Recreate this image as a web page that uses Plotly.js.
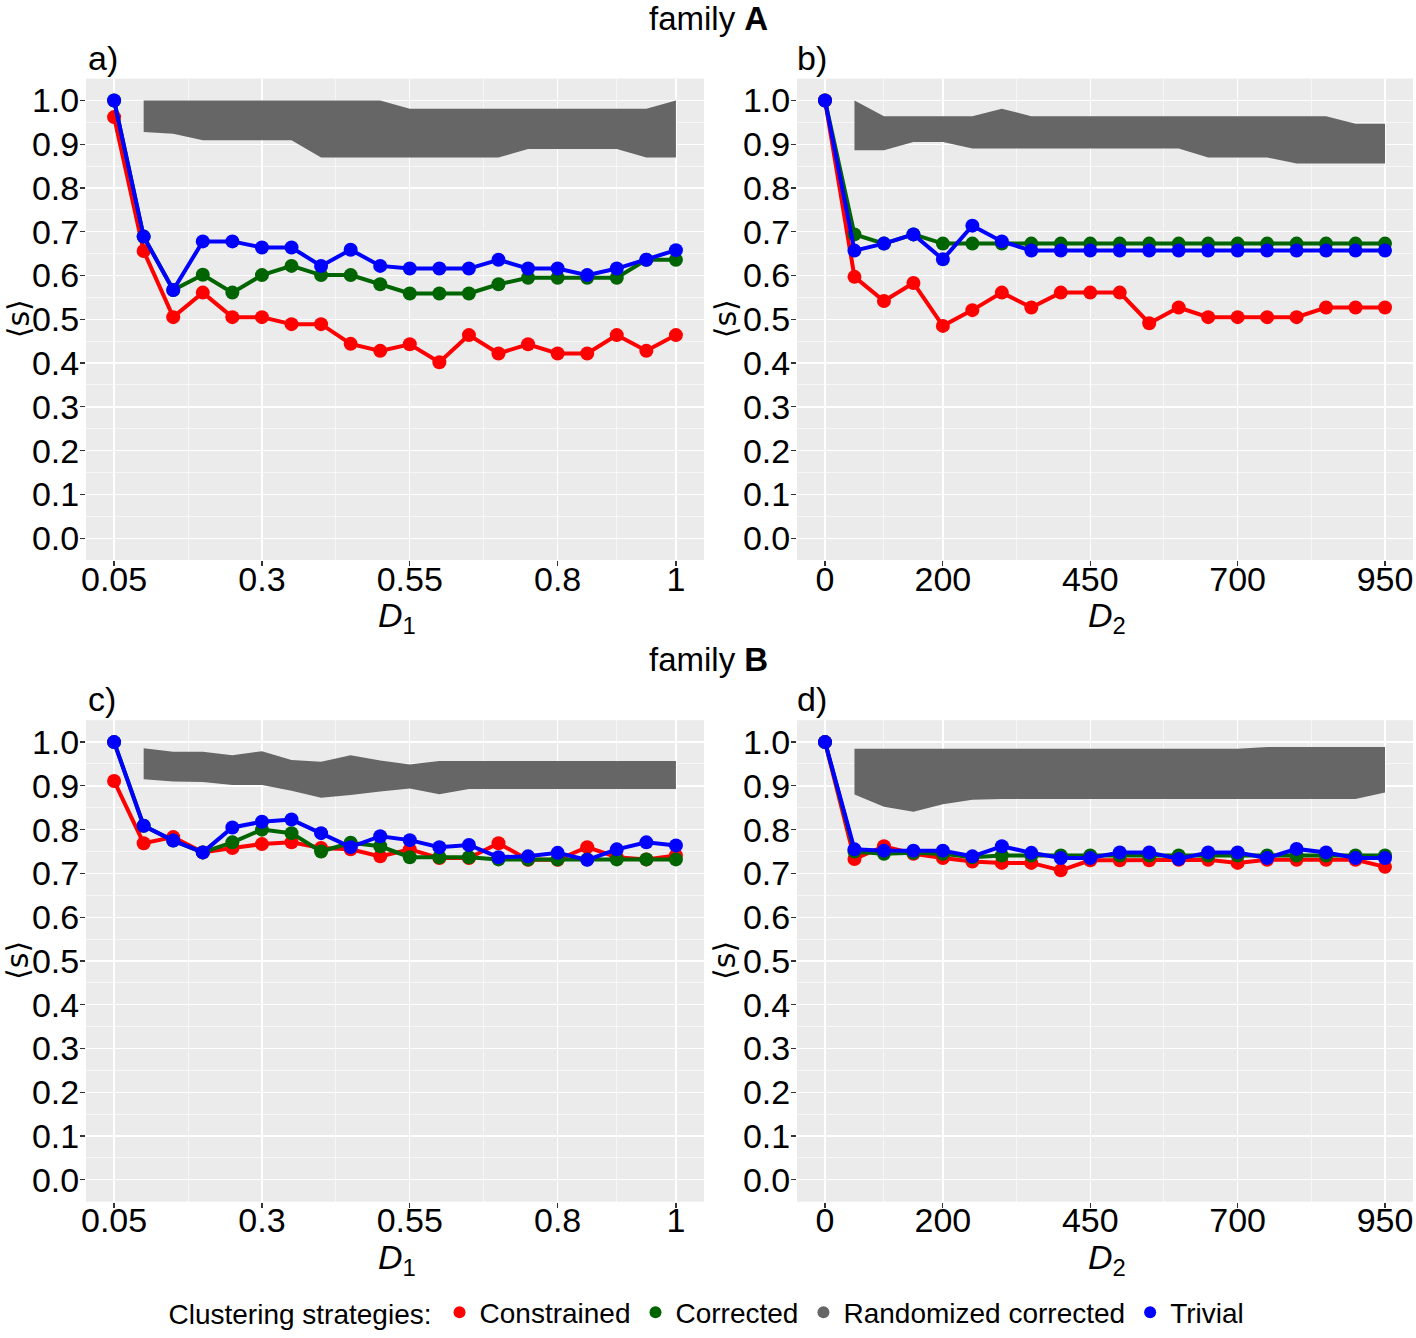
<!DOCTYPE html>
<html>
<head>
<meta charset="utf-8">
<script src="https://cdn.plot.ly/plotly-3.0.1.min.js"></script>
<style>html,body{margin:0;padding:0;background:#fff;}</style>
</head>
<body>
<div id="chart" style="width:1416px;height:1338px;"></div>
<script>
// ---- data ----
const D1 = [0.05,0.10,0.15,0.20,0.25,0.30,0.35,0.40,0.45,0.50,0.55,0.60,0.65,0.70,0.75,0.80,0.85,0.90,0.95,1.00];
const D2 = [0,50,100,150,200,250,300,350,400,450,500,550,600,650,700,750,800,850,900,950];

// family A, panel a (D1)
const a_constrained = [0.962,0.656,0.505,0.561,0.505,0.505,0.489,0.489,0.444,0.428,0.443,0.402,0.464,0.422,0.443,0.422,0.422,0.464,0.428,0.464];
const a_corrected   = [1.000,0.689,0.567,0.602,0.561,0.601,0.622,0.601,0.601,0.580,0.559,0.559,0.559,0.580,0.595,0.595,0.595,0.595,0.636,0.636];
const a_trivial     = [1.000,0.689,0.567,0.678,0.678,0.664,0.664,0.622,0.659,0.622,0.616,0.616,0.616,0.636,0.616,0.616,0.601,0.616,0.636,0.658];
const a_rand_upper  = [1.000,1.000,1.000,1.000,1.000,1.000,1.000,1.000,1.000,0.981,0.981,0.981,0.981,0.981,0.981,0.981,0.981,0.981,1.000];
const a_rand_lower  = [0.928,0.924,0.909,0.909,0.909,0.909,0.870,0.870,0.870,0.870,0.870,0.870,0.870,0.889,0.889,0.889,0.889,0.870,0.870];

// family A, panel b (D2)
const b_constrained = [1.000,0.597,0.542,0.583,0.485,0.521,0.561,0.527,0.561,0.561,0.561,0.491,0.527,0.505,0.505,0.505,0.505,0.527,0.527,0.527];
const b_corrected   = [1.000,0.694,0.673,0.694,0.673,0.673,0.673,0.673,0.673,0.673,0.673,0.673,0.673,0.673,0.673,0.673,0.673,0.673,0.673,0.673];
const b_trivial     = [1.000,0.657,0.673,0.694,0.637,0.714,0.678,0.657,0.657,0.657,0.657,0.657,0.657,0.657,0.657,0.657,0.657,0.657,0.657,0.657];
const b_rand_upper  = [1.000,0.964,0.964,0.964,0.964,0.981,0.964,0.964,0.964,0.964,0.964,0.964,0.964,0.964,0.964,0.964,0.964,0.947,0.947];
const b_rand_lower  = [0.886,0.886,0.905,0.905,0.890,0.890,0.890,0.890,0.890,0.890,0.890,0.890,0.870,0.870,0.870,0.856,0.856,0.856,0.856];

// family B, panel c (D1)
const c_constrained = [0.911,0.769,0.783,0.748,0.758,0.767,0.771,0.758,0.755,0.739,0.755,0.735,0.735,0.769,0.731,0.731,0.760,0.737,0.732,0.741];
const c_corrected   = [1.000,0.809,0.775,0.748,0.771,0.800,0.792,0.750,0.770,0.762,0.737,0.737,0.737,0.732,0.732,0.732,0.732,0.732,0.732,0.732];
const c_trivial     = [1.000,0.809,0.775,0.748,0.805,0.818,0.823,0.792,0.760,0.785,0.776,0.760,0.765,0.737,0.739,0.747,0.731,0.755,0.771,0.764];
const c_rand_upper  = [0.986,0.978,0.978,0.970,0.979,0.959,0.955,0.970,0.958,0.949,0.957,0.957,0.957,0.957,0.957,0.957,0.957,0.957,0.957];
const c_rand_lower  = [0.915,0.910,0.909,0.902,0.902,0.889,0.873,0.879,0.887,0.894,0.881,0.893,0.893,0.893,0.893,0.893,0.893,0.893,0.893];

// family B, panel d (D2)
const d_constrained = [1.000,0.733,0.762,0.745,0.735,0.727,0.724,0.724,0.707,0.730,0.730,0.730,0.731,0.731,0.724,0.731,0.731,0.731,0.731,0.715];
const d_corrected   = [1.000,0.750,0.745,0.747,0.745,0.737,0.741,0.741,0.741,0.741,0.741,0.741,0.741,0.741,0.741,0.741,0.741,0.741,0.741,0.741];
const d_trivial     = [1.000,0.755,0.752,0.752,0.752,0.739,0.762,0.747,0.735,0.735,0.748,0.748,0.733,0.748,0.748,0.735,0.756,0.748,0.735,0.735];
const d_rand_upper  = [0.985,0.985,0.985,0.985,0.985,0.985,0.985,0.985,0.985,0.985,0.985,0.985,0.985,0.985,0.989,0.989,0.989,0.989,0.989];
const d_rand_lower  = [0.880,0.852,0.841,0.858,0.868,0.870,0.870,0.870,0.870,0.870,0.870,0.870,0.870,0.870,0.870,0.870,0.870,0.870,0.885];

const strategyNames = ["Constrained","Corrected","Randomized corrected","Trivial"];
const D1ticks = [0.05,0.3,0.55,0.8,1];
const D1tickText = ["0.05","0.3","0.55","0.8","1"];
const D2ticks = [0,200,450,700,950];
const D2tickText = ["0","200","450","700","950"];

// ---- styling ----
const RED = "#FF0000", GREEN = "#006400", BLUE = "#0000FF", GREY = "#666666";
const FONT = "Liberation Sans, Arial, Helvetica, sans-serif";
const W = 1416, H = 1338;

const panels = [
  {x: D1, con: a_constrained, cor: a_corrected, tri: a_trivial, up: a_rand_upper, lo: a_rand_lower, xa: "x", ya: "y"},
  {x: D2, con: b_constrained, cor: b_corrected, tri: b_trivial, up: b_rand_upper, lo: b_rand_lower, xa: "x2", ya: "y2"},
  {x: D1, con: c_constrained, cor: c_corrected, tri: c_trivial, up: c_rand_upper, lo: c_rand_lower, xa: "x3", ya: "y3"},
  {x: D2, con: d_constrained, cor: d_corrected, tri: d_trivial, up: d_rand_upper, lo: d_rand_lower, xa: "x4", ya: "y4"}
];

const traces = [];
panels.forEach(p => {
  const rx = p.x.slice(1);
  traces.push({
    x: rx.concat(rx.slice().reverse()),
    y: p.up.concat(p.lo.slice().reverse()),
    xaxis: p.xa, yaxis: p.ya, type: "scatter", mode: "lines",
    fill: "toself", fillcolor: GREY, line: {width: 0, color: GREY},
    showlegend: false, hoverinfo: "skip"
  });
  [[p.con, RED], [p.cor, GREEN], [p.tri, BLUE]].forEach(([ys, col]) => {
    traces.push({
      x: p.x, y: ys, xaxis: p.xa, yaxis: p.ya, type: "scatter", mode: "lines+markers",
      line: {color: col, width: 4}, marker: {color: col, size: 14},
      showlegend: false
    });
  });
});
// legend keys (dots only)
[RED, GREEN, GREY, BLUE].forEach((col, i) => {
  traces.push({
    x: [null], y: [null], xaxis: "x", yaxis: "y", type: "scatter", mode: "markers",
    marker: {color: col, size: 12}, name: strategyNames[i], showlegend: true
  });
});

function px2fx(px) { return px / W; }
function px2fy(py) { return 1 - py / H; }

const xDomL = [px2fx(86), px2fx(704)];
const xDomR = [px2fx(797), px2fx(1413)];
const yDomT = [px2fy(563), px2fy(79)];
const yDomB = [px2fy(1208), px2fy(724)];

const tickFont = {size: 34, color: "#000000", family: FONT};
const commonAx = {
  ticks: "outside", ticklen: 5, tickwidth: 1.2, tickcolor: "#333333",
  showgrid: true, gridcolor: "#FFFFFF", gridwidth: 1.3, zeroline: false, showline: false,
  tickfont: tickFont, fixedrange: true
};

function xaxisD1(dom, anchor) {
  return Object.assign({}, commonAx, {domain: dom, anchor: anchor, range: [0.0025, 1.0475],
    tickmode: "array", tickvals: D1ticks, ticktext: D1tickText, ticklabelstandoff: -16,
    minor: {tickmode: "array", tickvals: [0.175, 0.425, 0.675, 0.9], showgrid: true, gridcolor: "#FFFFFF", gridwidth: 0.6, ticks: ""}});
}
function xaxisD2(dom, anchor) {
  return Object.assign({}, commonAx, {domain: dom, anchor: anchor, range: [-47.5, 997.5],
    tickmode: "array", tickvals: D2ticks, ticktext: D2tickText, ticklabelstandoff: -16,
    minor: {tickmode: "array", tickvals: [100, 325, 575, 825], showgrid: true, gridcolor: "#FFFFFF", gridwidth: 0.6, ticks: ""}});
}
function yaxisS(dom, anchor) {
  return Object.assign({}, commonAx, {domain: dom, anchor: anchor, range: [-0.05, 1.05],
    tickmode: "linear", tick0: 0, dtick: 0.1, tickformat: ".1f", ticklabelstandoff: -6,
    minor: {tickmode: "linear", tick0: 0.05, dtick: 0.1, showgrid: true, gridcolor: "#FFFFFF", gridwidth: 0.6, ticks: ""}});
}

const annFont = {size: 34, color: "#000000", family: FONT};
function ann(text, xpx, ypx, opts) {
  return Object.assign({text: text, xref: "paper", yref: "paper", x: px2fx(xpx), y: px2fy(ypx),
    showarrow: false, font: annFont, xanchor: "center", yanchor: "middle"}, opts || {});
}
const sFont = {size: 30, color: "#000000", family: "DejaVu Sans, " + FONT};

const annotations = [
  ann("family <b>A</b>", 708, 19, {font: {size: 33, color: "#000000", family: FONT}}),
  ann("family <b>B</b>", 708, 663, {font: {size: 33, color: "#000000", family: FONT}}),
  ann("a)", 86, 58, {xanchor: "left"}),
  ann("b)", 795, 58, {xanchor: "left"}),
  ann("c)", 86, 703, {xanchor: "left"}),
  ann("d)", 795, 703, {xanchor: "left"}),
  ann("<i>D</i><sub>1</sub>", 397, 621),
  ann("<i>D</i><sub>2</sub>", 1107, 621),
  ann("<i>D</i><sub>1</sub>", 397, 1266),
  ann("<i>D</i><sub>2</sub>", 1107, 1266),
  ann("⟨s⟩", 18, 321, {textangle: -90, font: sFont}),
  ann("⟨s⟩", 725, 321, {textangle: -90, font: sFont}),
  ann("⟨s⟩", 18, 966, {textangle: -90, font: sFont}),
  ann("⟨s⟩", 725, 966, {textangle: -90, font: sFont})
];

const layout = {
  width: W, height: H,
  margin: {l: 0, r: 0, t: 0, b: 0, pad: 0},
  paper_bgcolor: "#FFFFFF", plot_bgcolor: "#EBEBEB",
  font: {family: FONT, color: "#000000"},
  xaxis: xaxisD1(xDomL, "y"), yaxis: yaxisS(yDomT, "x"),
  xaxis2: xaxisD2(xDomR, "y2"), yaxis2: yaxisS(yDomT, "x2"),
  xaxis3: xaxisD1(xDomL, "y3"), yaxis3: yaxisS(yDomB, "x3"),
  xaxis4: xaxisD2(xDomR, "y4"), yaxis4: yaxisS(yDomB, "x4"),
  showlegend: true,
  legend: {orientation: "h", x: 0.5, xanchor: "center", y: -0.005, yanchor: "bottom",
    font: {size: 28, color: "#000000", family: FONT},
    title: {text: "Clustering strategies:", side: "left", font: {size: 28, color: "#000000", family: FONT}},
    bgcolor: "rgba(0,0,0,0)", itemwidth: 30, tracegroupgap: 0},
  annotations: annotations
};

Plotly.newPlot("chart", traces, layout, {staticPlot: true, displayModeBar: false});
</script>
</body>
</html>
